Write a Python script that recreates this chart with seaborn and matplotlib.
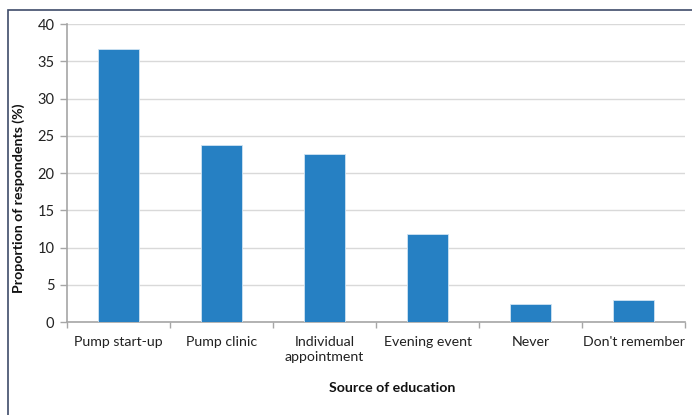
import matplotlib
matplotlib.use("Agg")
import matplotlib.pyplot as plt
from matplotlib.patches import Rectangle
from matplotlib.ticker import FixedLocator
import seaborn as sns
import pandas as pd

categories = ["Pump start-up", "Pump clinic", "Individual\nappointment",
              "Evening event", "Never", "Don't remember"]
proportions = [36.7, 23.7, 22.5, 11.8, 2.4, 3.0]
y_ticks = [0, 5, 10, 15, 20, 25, 30, 35, 40]

df = pd.DataFrame({"source": categories, "pct": proportions})

sns.set_theme(style="white")
plt.rcParams["font.family"] = ["Lato", "DejaVu Sans"]

fig = plt.figure(figsize=(6.92, 4.15), dpi=100)
ax = fig.add_axes([67 / 692, 1 - 322 / 415, (685 - 67) / 692, (322 - 24) / 415])

sns.barplot(data=df, x="source", y="pct", color="#2680c3", saturation=1,
            width=0.4, edgecolor="#cfe3f3", linewidth=0.6, ax=ax, zorder=3)

ax.set_xlim(-0.5, len(categories) - 0.5)
ax.set_ylim(0, 40)
ax.set_yticks(y_ticks)
ax.set_yticklabels([str(t) for t in y_ticks], fontsize=10.5, color="#222222")
ax.yaxis.grid(True, color="#d9d9d9", linewidth=1, zorder=0)
ax.set_axisbelow(True)

# category labels without marks; boundary marks as minor ticks
ax.set_xticks(range(len(categories)))
ax.set_xticklabels(categories, linespacing=1.35, fontsize=10.2, color="#222222")
ax.tick_params(axis="x", which="major", length=0, pad=10)
ax.xaxis.set_minor_locator(FixedLocator([i - 0.5 for i in range(len(categories) + 1)]))
ax.tick_params(axis="x", which="minor", length=4, width=1, color="#a6a6a6",
               direction="out", bottom=True)
ax.tick_params(axis="y", length=5, width=1, color="#a6a6a6", direction="out",
               left=True, pad=4)

for side in ["top", "right"]:
    ax.spines[side].set_visible(False)
for side in ["left", "bottom"]:
    ax.spines[side].set_color("#a6a6a6")
    ax.spines[side].set_linewidth(1.2)

ax.set_xlabel("Source of education", fontsize=10.2, fontweight="bold",
              color="#111111")
ax.set_ylabel("Proportion of respondents (%)", fontsize=10.2, fontweight="bold",
              color="#111111")
ax.xaxis.set_label_coords(0.527, -0.222)
ax.yaxis.set_label_coords(-0.079, 0.415)
ax.xaxis.label.set_va("center")
ax.yaxis.label.set_va("center")

# chart frame
fig.patches.append(Rectangle((7.5 / 692, -0.1), 1.2, 1 - 10.5 / 415 + 0.1,
                             transform=fig.transFigure, fill=False,
                             edgecolor="#3e4c6a", linewidth=1.2, zorder=10))

fig.savefig("out.png", dpi=100)
